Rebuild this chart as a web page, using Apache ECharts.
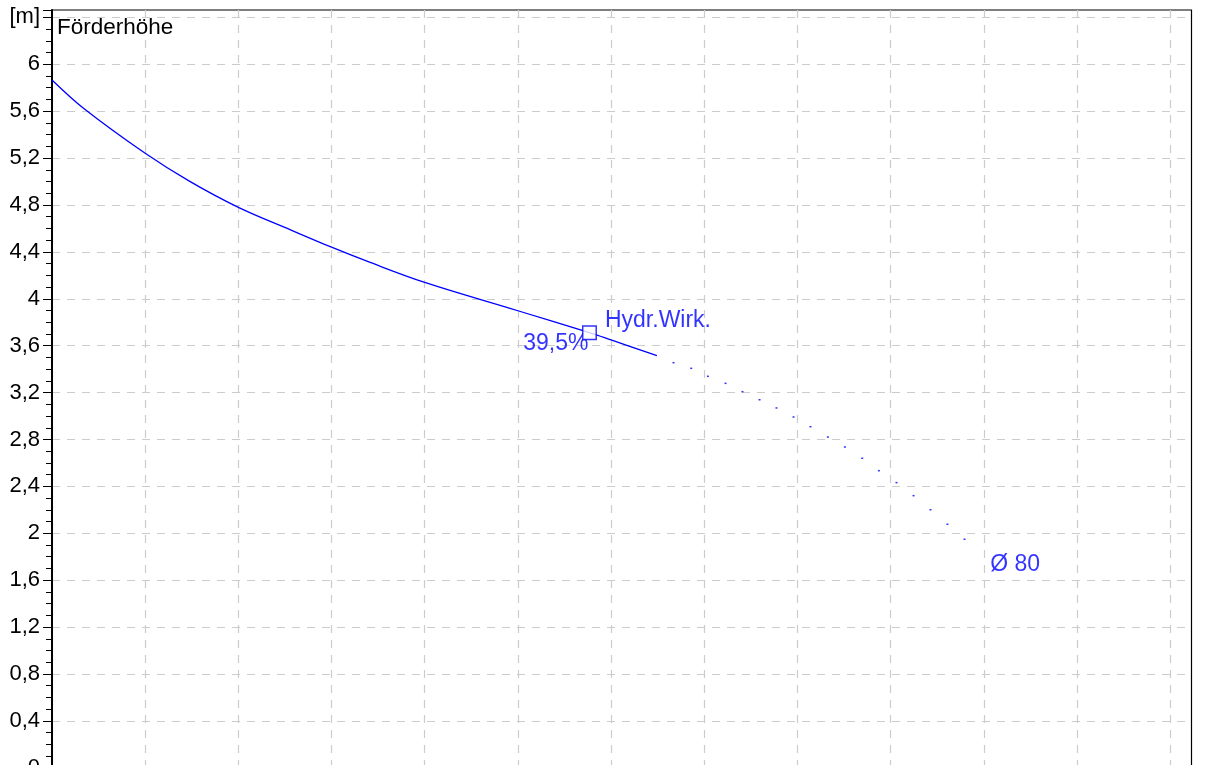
<!DOCTYPE html>
<html><head><meta charset="utf-8">
<script src="https://cdn.jsdelivr.net/npm/echarts@6/dist/echarts.min.js"></script>
<style>html,body{margin:0;padding:0;background:#fff}#c{width:1215px;height:765px}</style>
</head><body><div id="c"></div>
<script>
// Head curve (solid part)
const curveX = [0, 0.338, 1, 1.483, 2, 2.56, 3, 3.415, 4, 5, 5.768, 6, 6.492];
const curveY = [5.866, 5.625, 5.241, 4.999, 4.780, 4.588, 4.44, 4.31, 4.14, 3.898, 3.711, 3.649, 3.515];
// Extension (dotted part)
const dotsX = [6.670, 6.860, 7.039, 7.228, 7.410, 7.593, 7.775, 7.958, 8.140, 8.327, 8.509, 8.695, 8.874, 9.063, 9.246, 9.428, 9.610, 9.793];
const dotsY = [3.455, 3.407, 3.339, 3.279, 3.208, 3.139, 3.069, 2.992, 2.909, 2.821, 2.736, 2.640, 2.534, 2.432, 2.321, 2.201, 2.077, 1.949];
// Operating point
const opPoint = [5.768, 3.711];
const opLabel = 'Hydr.Wirk.';
const effLabel = '39,5%';
const diameterLabel = 'Ø 80';
const yTitle = 'Förderhöhe';
const yUnit = '[m]';
const yTickStep = 0.4;
const yMax = 6.463;
const xMax = 12.229;

const FONT = 'Liberation Sans';
const BLUE = '#0000ff';
const TXTBLUE = '#0000ff';

const chart = echarts.init(document.getElementById('c'), null, {renderer: 'canvas'});

const dotData = dotsX.map((x, i) => {
  const item = {value: [x, dotsY[i]]};
  if (i === dotsX.length - 1) {
    item.label = {
      show: true, formatter: diameterLabel, position: 'right', distance: 5,
      offset: [19.7, 25.7], fontFamily: FONT, fontSize: 23, color: TXTBLUE
    };
  }
  return item;
});

const gridLine = {show: true, showMaxLine: false, lineStyle: {color: '#cccccc', width: 1.2, type: [8, 7]}};

const option = {
  animation: false,
  backgroundColor: '#fff',
  grid: {
    left: 52, top: 10, width: 1139.5, height: 757.8,
    show: true, borderColor: '#000', borderWidth: 1.2, backgroundColor: 'transparent',
    containLabel: false, outerBoundsMode: 'none'
  },
  xAxis: {
    type: 'value', min: 0, max: xMax, interval: 1,
    axisLine: {show: false}, axisTick: {show: false}, axisLabel: {show: false},
    splitLine: gridLine
  },
  yAxis: {
    type: 'value', min: 0, max: yMax, interval: yTickStep,
    axisLine: {show: true, lineStyle: {color: '#000', width: 2}},
    axisTick: {show: true, length: 9, lineStyle: {color: '#000', width: 1}},
    minorTick: {show: true, splitNumber: 4, length: 6, lineStyle: {color: '#000', width: 1}},
    axisLabel: {
      margin: 12, fontFamily: FONT, fontSize: 22, color: '#000',
      showMaxLabel: true,
      formatter: function (v) {
        const k = v / yTickStep;
        if (Math.abs(k - Math.round(k)) > 1e-6) return '';
        if (Math.abs(v - 6.4) < 1e-6) return yUnit;
        return String(+v.toFixed(1)).replace('.', ',');
      }
    },
    splitLine: gridLine
  },
  graphic: [{
    type: 'text', x: 57, y: 28, z: 100,
    style: {text: yTitle, fontFamily: FONT, fontSize: 22.5, fill: '#000',
      textVerticalAlign: 'middle', verticalAlign: 'middle'}
  }],
  series: [
    {
      type: 'line', data: curveX.map((x, i) => [x, curveY[i]]),
      showSymbol: false, smooth: 0.35, silent: true, z: 2,
      lineStyle: {color: BLUE, width: 1.3}
    },
    {
      type: 'scatter', data: dotData, symbol: 'rect', symbolSize: [2, 1.5],
      itemStyle: {color: BLUE}, silent: true, z: 3
    },
    {
      type: 'scatter', data: [opPoint], symbol: 'rect', symbolSize: 13, silent: true, z: 4,
      itemStyle: {color: 'rgba(255,255,255,0)'},
      label: {show: true, formatter: effLabel, position: 'left', distance: 5, offset: [10.5, 11.4],
        fontFamily: FONT, fontSize: 23, color: TXTBLUE}
    },
    {
      type: 'scatter', data: [opPoint], symbol: 'rect', symbolSize: 13.5, silent: true, z: 5,
      itemStyle: {color: '#fff', borderColor: BLUE, borderWidth: 1.5},
      label: {show: true, formatter: opLabel, position: 'right', distance: 8, offset: [0, -12.5],
        fontFamily: FONT, fontSize: 23, color: TXTBLUE}
    }
  ]
};
chart.setOption(option);
</script>
</body></html>
